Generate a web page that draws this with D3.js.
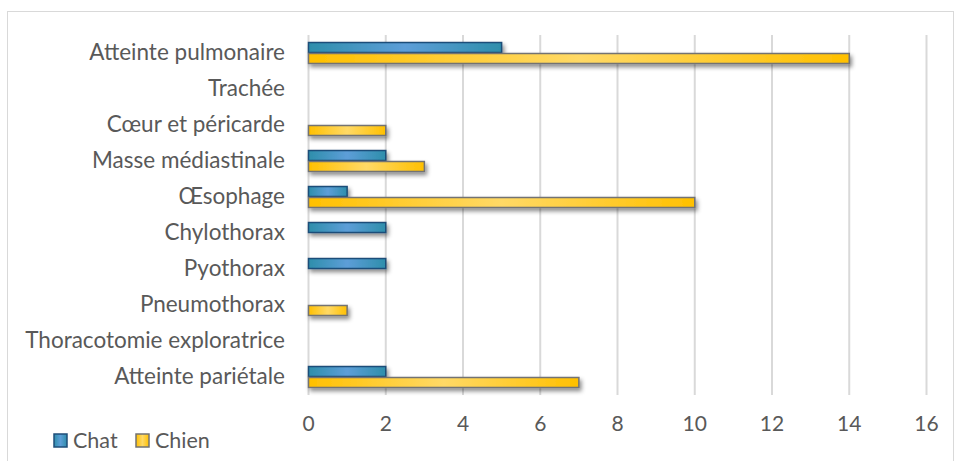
<!DOCTYPE html>
<html><head><meta charset="utf-8">
<script src="https://cdn.jsdelivr.net/npm/d3@7"></script>
<style>body{margin:0;background:#fff}svg{display:block}</style>
</head><body>
<script>
const categories = ["Atteinte pulmonaire","Trachée","Cœur et péricarde","Masse médiastinale","Œsophage","Chylothorax","Pyothorax","Pneumothorax","Thoracotomie exploratrice","Atteinte pariétale"];
const seriesNames = ["Chat","Chien"];
const chatValues = [5,0,0,2,1,2,2,0,0,2];
const chienValues = [14,0,2,3,10,0,0,1,0,7];
const xTicks = [0,2,4,6,8,10,12,14,16];

const W=954,H=461;
const svg=d3.select("body").append("svg").attr("width",W).attr("height",H);
const defs=svg.append("defs");
function grad(id,edge,mid){
  const g=defs.append("linearGradient").attr("id",id).attr("x1","0").attr("x2","1").attr("y1","0").attr("y2","0");
  g.append("stop").attr("offset","0%").attr("stop-color",edge);
  g.append("stop").attr("offset","50%").attr("stop-color",mid);
  g.append("stop").attr("offset","100%").attr("stop-color",edge);
}
grad("gChat","#2e8eab","#5d9ed8");
grad("gChien","#ffc000","#ffd966");
const f=defs.append("filter").attr("id","sh").attr("x","-10%").attr("y","-50%").attr("width","130%").attr("height","250%");
f.append("feDropShadow").attr("dx",2).attr("dy",3).attr("stdDeviation",2).attr("flood-color","#000").attr("flood-opacity",0.45);

svg.append("rect").attr("x",7.5).attr("y",11.5).attr("width",W-8).attr("height",H-4).attr("fill","none").attr("stroke","#d9d9d9").attr("stroke-width",1);

const x=d3.scaleLinear().domain([0,16]).range([308,926]);
const y=d3.scaleBand().domain(categories).range([35,395]).paddingInner(0.39).paddingOuter(0.195);
const y1=d3.scaleBand().domain(seriesNames).range([0,y.bandwidth()]);

svg.append("g").selectAll("line").data(xTicks).join("line")
  .attr("x1",d=>x(d)+0.5).attr("x2",d=>x(d)+0.5).attr("y1",35).attr("y2",395)
  .attr("stroke","#d9d9d9").attr("stroke-width",2);

const font="Lato, 'Open Sans', sans-serif";
const xa=svg.append("g").attr("transform","translate(0,395)").call(d3.axisBottom(x).tickValues(xTicks).tickSize(0).tickPadding(21));
xa.select(".domain").remove();
xa.selectAll("text").attr("font-family",font).attr("font-size",21).attr("fill","#595959");

const ya=svg.append("g").attr("transform","translate(308,0)").call(d3.axisLeft(y).tickSize(0).tickPadding(23));
ya.select(".domain").remove();
ya.selectAll("text").attr("font-family",font).attr("font-size",22.5).attr("fill","#595959");

const data=categories.map((c,i)=>({c,vals:[{s:"Chat",v:chatValues[i]},{s:"Chien",v:chienValues[i]}]}));
const gBars=svg.append("g");
data.forEach(d=>{
  d.vals.forEach(e=>{
    if(e.v<=0) return;
    gBars.append("rect")
      .attr("x",x(0)+0.5).attr("y",y(d.c)+y1(e.s)+0.5)
      .attr("width",x(e.v)-x(0)).attr("height",y1.bandwidth()-1)
      .attr("fill",e.s==="Chat"?"url(#gChat)":"url(#gChien)")
      .attr("stroke",e.s==="Chat"?"#1f4e79":"#737373").attr("stroke-width",1.5)
      .attr("filter","url(#sh)");
  });
});

const leg=svg.append("g");
const items=[{s:"Chat",x:54,fill:"url(#gChat)",st:"#1f4e79"},{s:"Chien",x:136,fill:"url(#gChien)",st:"#737373"}];
items.forEach(it=>{
  leg.append("rect").attr("x",it.x).attr("y",434).attr("width",13).attr("height",13).attr("fill",it.fill).attr("stroke",it.st).attr("stroke-width",1.5);
  leg.append("text").attr("x",it.x+19).attr("y",448).attr("font-family",font).attr("font-size",21.5).attr("fill","#595959").text(it.s);
});
</script>
</body></html>
